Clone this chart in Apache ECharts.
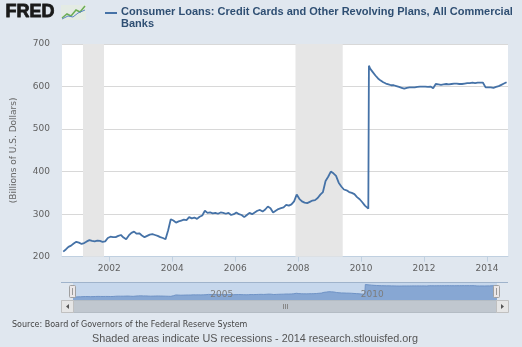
<!DOCTYPE html>
<html><head><meta charset="utf-8">
<script src="https://cdn.jsdelivr.net/npm/echarts@6/dist/echarts.min.js"></script>
<style>html,body{margin:0;padding:0;background:#e0e7ef;}#c{width:522px;height:347px;}</style>
</head><body><div id="c"></div>
<script>
// ---- data (monthly readings, billions of USD) ----
const dates = [
 '2000-07-15','2000-08-15','2000-09-15','2000-10-15','2000-11-15','2000-12-15',
 '2001-01-15','2001-02-15','2001-03-15','2001-04-15','2001-05-15','2001-06-15','2001-07-15','2001-08-15','2001-09-15','2001-10-15','2001-11-15','2001-12-15',
 '2002-01-15','2002-02-15','2002-03-15','2002-04-15','2002-05-15','2002-06-15','2002-07-15','2002-08-15','2002-09-15','2002-10-15','2002-11-15','2002-12-15',
 '2003-01-15','2003-02-15','2003-03-15','2003-04-15','2003-05-15','2003-06-15','2003-07-15','2003-08-15','2003-09-15','2003-10-15','2003-11-15','2003-12-15',
 '2004-01-15','2004-02-15','2004-03-15','2004-04-15','2004-05-15','2004-06-15','2004-07-15','2004-08-15','2004-09-15','2004-10-15','2004-11-15','2004-12-15',
 '2005-01-15','2005-02-15','2005-03-15','2005-04-15','2005-05-15','2005-06-15','2005-07-15','2005-08-15','2005-09-15','2005-10-15','2005-11-15','2005-12-15',
 '2006-01-15','2006-02-15','2006-03-15','2006-04-15','2006-05-15','2006-06-15','2006-07-15','2006-08-15','2006-09-15','2006-10-15','2006-11-15','2006-12-15',
 '2007-01-15','2007-02-15','2007-03-15','2007-04-15','2007-05-15','2007-06-15','2007-07-15','2007-08-15','2007-09-15','2007-10-15','2007-11-15','2007-12-15',
 '2008-01-15','2008-02-15','2008-03-15','2008-04-15','2008-05-15','2008-06-15','2008-07-15','2008-08-15','2008-09-15','2008-10-15','2008-11-15','2008-12-15',
 '2009-01-15','2009-02-15','2009-03-15','2009-04-15','2009-05-15','2009-06-15','2009-07-15','2009-08-15','2009-09-15','2009-10-15','2009-11-15','2009-12-15',
 '2010-01-15','2010-02-15','2010-03-24','2010-03-31','2010-04-15','2010-05-15','2010-06-15','2010-07-15','2010-08-15','2010-09-15','2010-10-15','2010-11-15','2010-12-15',
 '2011-01-15','2011-02-15','2011-03-15','2011-04-15','2011-05-15','2011-06-15','2011-07-15','2011-08-15','2011-09-15','2011-10-15','2011-11-15','2011-12-15',
 '2012-01-15','2012-02-15','2012-03-15','2012-04-15','2012-05-15','2012-06-15','2012-07-15','2012-08-15','2012-09-15','2012-10-15','2012-11-15','2012-12-15',
 '2013-01-15','2013-02-15','2013-03-15','2013-04-15','2013-05-15','2013-06-15','2013-07-15','2013-08-15','2013-09-15','2013-10-15','2013-11-15','2013-12-15',
 '2014-01-15','2014-02-15','2014-03-15','2014-04-15','2014-05-15','2014-06-15','2014-07-15','2014-08-15'
];
const values = [
 212,217,223,226,231,235,
 233,230,232,236,239,237,236,238,237,235,236,244,
 247,246,246,249,251,245,241,250,256,259,254,255,
 250,246,249,252,253,251,249,246,244,241,262,288,
 285,280,283,285,287,286,293,290,292,289,294,297,
 308,303,304,302,303,301,304,303,301,303,298,300,
 304,300,298,293,298,303,300,304,308,310,306,311,
 318,314,304,308,312,314,316,322,320,323,330,346,
 336,330,327,326,329,332,333,338,346,352,378,388,
 400,396,390,374,365,358,356,352,350,347,340,335,
 328,320,313,649,642,634,626,619,614,610,607,605,603,
 603,601,599,597,595,597,598,598,598,599,600,600,
 600,599,600,596,606,605,604,605,606,605,606,607,
 607,606,606,607,608,608,609,608,609,609,609,598,
 598,598,597,599,601,604,607,610
];
const recessions = [['2001-03-01','2001-11-01'],['2007-12-01','2009-06-01']];
const yearTicks = [2002,2004,2006,2008,2010,2012,2014];
const navTicks = [2005,2010];
const seriesName = 'Consumer Loans: Credit Cards and Other Revolving Plans, All Commercial Banks';

// date string -> decimal year
const dy = s => { const p = s.split('-').map(Number); return p[0] + (p[1]-1)/12 + (p[2]-1)/365; };
const data = dates.map((d,i) => [dy(d), values[i]]);

const chart = echarts.init(document.getElementById('c'), null, {renderer:'canvas'});
const F = 'DejaVu Sans';
chart.setOption({
  backgroundColor:'#e0e7ef',
  animation:false,
  grid:[
    {left:62, right:14, top:44, height:212.7, show:true, backgroundColor:'#ffffff', borderWidth:0},
    {left:73, width:424, top:283, height:17, show:true, backgroundColor:'#c6d7ec', borderWidth:0}
  ],
  xAxis:[
    {type:'value', gridIndex:0, min:dy('2000-07-01'), max:dy('2014-09-01'),
     axisLine:{lineStyle:{color:'#c0d0e0'}},
     axisTick:{show:true, length:5, lineStyle:{color:'#c0d0e0'}, customValues: yearTicks},
     axisLabel:{customValues: yearTicks, formatter: v => String(Math.round(v)),
       color:'#606060', fontFamily:F, fontSize:9, margin:7},
     splitLine:{show:false}},
    {type:'value', gridIndex:1, min:dy(dates[0]), max:dy(dates[dates.length-1]), z:20,
     axisLine:{show:false}, axisTick:{show:false},
     axisLabel:{inside:true, customValues: navTicks, formatter: v => String(Math.round(v)),
       color:'#7d7d7d', fontFamily:F, fontSize:9, align:'left', padding:[0,0,0,3], margin:1,
       showMinLabel:true, showMaxLabel:true, hideOverlap:false},
     splitLine:{show:false}}
  ],
  yAxis:[
    {type:'value', gridIndex:0, min:200, max:700, interval:100,
     name:'(Billions of U.S. Dollars)', nameLocation:'middle', nameGap:44, nameRotate:90,
     nameTextStyle:{color:'#666', fontFamily:F, fontSize:9},
     axisLine:{show:false}, axisTick:{show:false},
     axisLabel:{color:'#606060', fontFamily:F, fontSize:9, margin:12},
     splitLine:{lineStyle:{color:'#d8d8d8', width:1}}},
    {type:'value', gridIndex:1, min:115, max:700, show:false, splitLine:{show:false}}
  ],
  series:[
    {name:seriesName, type:'line', xAxisIndex:0, yAxisIndex:0, data:data, showSymbol:false, symbol:'none',
     lineStyle:{color:'#4572a7', width:1.8}, z:5,
     markArea:{silent:true, itemStyle:{color:'#e6e6e6'},
       data: recessions.map(r => [{xAxis:dy(r[0])},{xAxis:dy(r[1])}])}},
    {type:'line', xAxisIndex:1, yAxisIndex:1, data:data, showSymbol:false, symbol:'none',
     lineStyle:{color:'#6f93c6', width:1}, areaStyle:{color:'#87a7d3', opacity:1}, z:2}
  ],
  graphic:[
    {type:'text', left:5, top:3, style:{text:'FRED', fill:'#1a1a1a', stroke:'#1a1a1a', lineWidth:0.8, font:'bold 18px "Liberation Sans"'}},
    {type:'rect', shape:{x:61, y:5, width:25, height:15}, style:{fill:'#e4ebe4'}},
    {type:'polyline', shape:{points:[[62,18],[67,14],[71,16],[76,10],[80,12],[85,6]]}, style:{stroke:'#6cae55', lineWidth:1.5, fill:null}},
    {type:'polyline', shape:{points:[[62,19],[68,16],[73,17],[78,13],[85,10]]}, style:{stroke:'#5a86c0', lineWidth:1, fill:null}},
    {type:'line', shape:{x1:105, y1:13, x2:117, y2:13}, style:{stroke:'#4572a7', lineWidth:2}},
    {type:'text', left:121, top:6, style:{text:'Consumer Loans: Credit Cards and Other Revolving Plans, All Commercial\nBanks',
       fill:'#2f4f73', font:'bold 11px "Liberation Sans"', lineHeight:12}},
    {type:'line', shape:{x1:61, y1:282.5, x2:508, y2:282.5}, style:{stroke:'#9fb3cb', lineWidth:1}, z:10},
    {type:'rect', shape:{x:69.5, y:285.5, width:6, height:12, r:1}, style:{fill:'#ebe7e8', stroke:'#a0a0a0', lineWidth:1}, z:10},
    {type:'line', shape:{x1:72.5, y1:288, x2:72.5, y2:295}, style:{stroke:'#999', lineWidth:1}, z:11},
    {type:'rect', shape:{x:493.5, y:285.5, width:6, height:12, r:1}, style:{fill:'#ebe7e8', stroke:'#a0a0a0', lineWidth:1}, z:10},
    {type:'line', shape:{x1:496.5, y1:288, x2:496.5, y2:295}, style:{stroke:'#999', lineWidth:1}, z:11},
    {type:'rect', shape:{x:61.5, y:300.5, width:446, height:12}, style:{fill:'#eeeeee', stroke:'#c8c8c8', lineWidth:1}, z:10},
    {type:'rect', shape:{x:73.5, y:300.5, width:423, height:12}, style:{fill:'#c0c7cf', stroke:'#b4bcc4', lineWidth:1}, z:10},
    {type:'rect', shape:{x:61.5, y:300.5, width:12, height:12}, style:{fill:'#e6e6e6', stroke:'#c0c0c0', lineWidth:1}, z:11},
    {type:'rect', shape:{x:496.5, y:300.5, width:12, height:12}, style:{fill:'#e6e6e6', stroke:'#c0c0c0', lineWidth:1}, z:11},
    {type:'polygon', shape:{points:[[66,306.5],[69,304],[69,309]]}, style:{fill:'#555'}, z:12},
    {type:'polygon', shape:{points:[[504,306.5],[501,304],[501,309]]}, style:{fill:'#555'}, z:12},
    {type:'line', shape:{x1:283.5, y1:304, x2:283.5, y2:309}, style:{stroke:'#888', lineWidth:1}, z:12},
    {type:'line', shape:{x1:285.5, y1:304, x2:285.5, y2:309}, style:{stroke:'#888', lineWidth:1}, z:12},
    {type:'line', shape:{x1:287.5, y1:304, x2:287.5, y2:309}, style:{stroke:'#888', lineWidth:1}, z:12},
    {type:'text', left:12, top:321, style:{text:'Source: Board of Governors of the Federal Reserve System', fill:'#444', font:'8px "DejaVu Sans"'}},
    {type:'text', left:92, top:334, style:{text:'Shaded areas indicate US recessions - 2014 research.stlouisfed.org', fill:'#555', font:'10.8px "Liberation Sans"'}}
  ]
});
</script></body></html>
